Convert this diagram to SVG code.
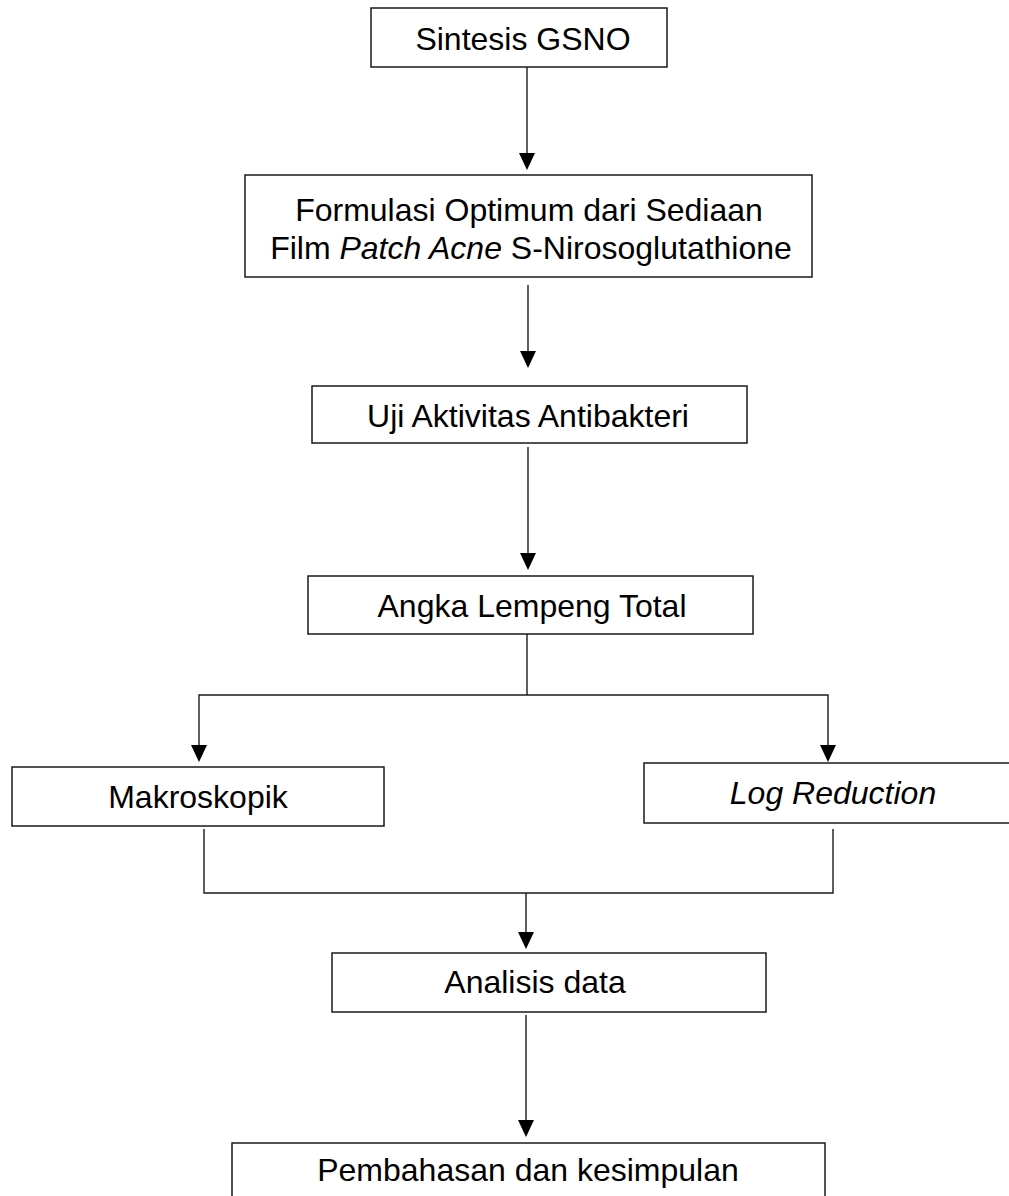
<svg xmlns="http://www.w3.org/2000/svg" width="1009" height="1196" viewBox="0 0 1009 1196">
<style>
.box{fill:#fff;stroke:#1a1a1a;stroke-width:1.5}
.t{font-family:"Liberation Sans",Arial,sans-serif;font-size:32px;fill:#000}
.c{fill:none;stroke:#1a1a1a;stroke-width:1.4}
.h{fill:#000}
</style>
<rect width="1009" height="1196" fill="#fff"/>
<g id="connectors">
<line class="c" x1="527" y1="67" x2="527" y2="153"/>
<path class="h" d="M519,153 L535,153 L527,170 Z"/>
<line class="c" x1="528" y1="285" x2="528" y2="351"/>
<path class="h" d="M520,351 L536,351 L528,368 Z"/>
<line class="c" x1="528" y1="447" x2="528" y2="553"/>
<path class="h" d="M520,553 L536,553 L528,570 Z"/>
<polyline class="c" points="527,634 527,695"/>
<polyline class="c" points="199,745 199,695 828,695 828,745"/>
<path class="h" d="M191,745 L207,745 L199,762 Z"/>
<path class="h" d="M820,745 L836,745 L828,762 Z"/>
<polyline class="c" points="204,829 204,893 833,893 833,829"/>
<line class="c" x1="526" y1="893" x2="526" y2="932"/>
<path class="h" d="M518,932 L534,932 L526,949 Z"/>
<line class="c" x1="526" y1="1015" x2="526" y2="1120"/>
<path class="h" d="M518,1120 L534,1120 L526,1137 Z"/>
</g>
<g id="n1">
<rect class="box" x="371" y="8" width="296" height="59"/>
<text class="t" x="523" y="50" text-anchor="middle">Sintesis GSNO</text>
</g>
<g id="n2">
<rect class="box" x="245" y="175" width="567" height="102"/>
<text class="t" x="529" y="221" text-anchor="middle">Formulasi Optimum dari Sediaan</text>
<text class="t" x="531" y="259" text-anchor="middle">Film <tspan font-style="italic">Patch Acne</tspan> S-Nirosoglutathione</text>
</g>
<g id="n3">
<rect class="box" x="312" y="386" width="435" height="57"/>
<text class="t" x="528" y="427" text-anchor="middle">Uji Aktivitas Antibakteri</text>
</g>
<g id="n4">
<rect class="box" x="308" y="576" width="445" height="58"/>
<text class="t" x="532" y="617" text-anchor="middle">Angka Lempeng Total</text>
</g>
<g id="n5">
<rect class="box" x="12" y="767" width="372" height="59"/>
<text class="t" x="198" y="808" text-anchor="middle">Makroskopik</text>
</g>
<g id="n6">
<rect class="box" x="644" y="763" width="372" height="60"/>
<text class="t" x="833" y="804" text-anchor="middle" font-style="italic" font-size="29px">Log Reduction</text>
</g>
<g id="n7">
<rect class="box" x="332" y="953" width="434" height="59"/>
<text class="t" x="535" y="993" text-anchor="middle">Analisis data</text>
</g>
<g id="n8">
<rect class="box" x="232" y="1143" width="593" height="60"/>
<text class="t" x="528" y="1181" text-anchor="middle">Pembahasan dan kesimpulan</text>
</g>
</svg>
